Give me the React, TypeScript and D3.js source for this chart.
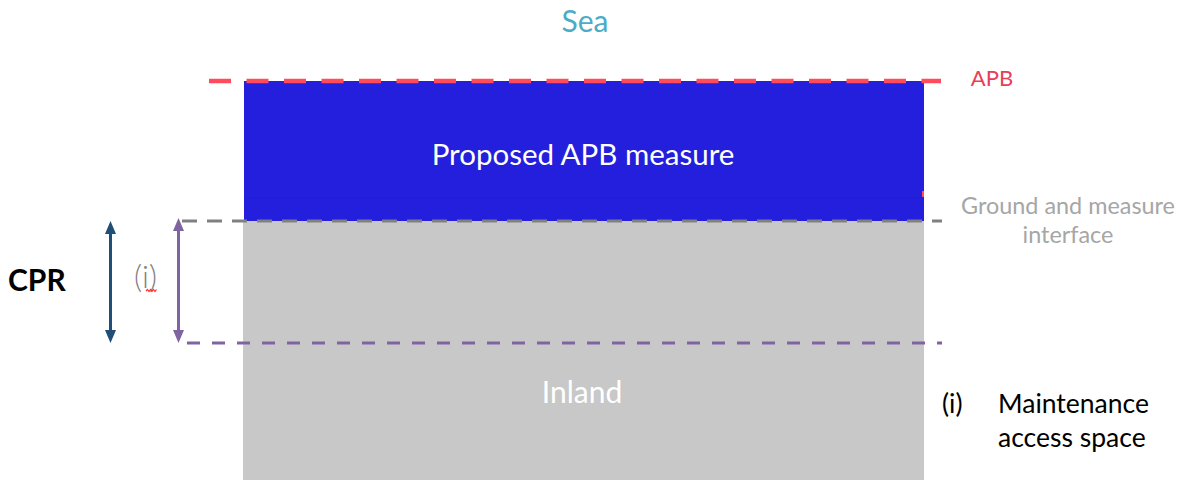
import React from "react";
import * as d3 from "d3";

// Conceptual vertical "depth" of the levels (arbitrary units, 0 = APB line)
const levelNames = ["APB", "Ground and measure interface", "Maintenance access limit", "Inland base"];
const levelDepths = [0, 3.5, 6.55, 10];

// Zones between levels
const zoneNames = ["Proposed APB measure", "Inland"];
const zoneTop = [0, 3.5];
const zoneBottom = [3.5, 10];

// Horizontal extent of the measure (fraction of drawing width)
const measureExtent = [0, 1];

const labels = {
  sea: "Sea",
  apb: "APB",
  interface1: "Ground and measure",
  interface2: "interface",
  cpr: "CPR",
  iMark: "(i)",
  legend1: "Maintenance",
  legend2: "access space",
};

const W = 1187;
const H = 480;
const FONT = "Lato, 'Open Sans', sans-serif";

function arrowHeads(xc: number, yTop: number, yBot: number, w: number, h: number) {
  const up = d3.path();
  up.moveTo(xc, yTop);
  up.lineTo(xc + w / 2, yTop + h);
  up.lineTo(xc - w / 2, yTop + h);
  up.closePath();
  const down = d3.path();
  down.moveTo(xc, yBot);
  down.lineTo(xc + w / 2, yBot - h);
  down.lineTo(xc - w / 2, yBot - h);
  down.closePath();
  return up.toString() + down.toString();
}

export default function App() {
  const y = d3.scaleLinear().domain([0, 10]).range([81, 481]);
  const x = d3.scaleLinear().domain([0, 1]).range([243, 924]);

  const yAPB = y(levelDepths[0]);
  const yInt = y(levelDepths[1]);
  const yAcc = y(levelDepths[2]);

  const squiggle = d3.line()([
    [146, 291], [147.5, 289.5], [149, 291.5], [150.5, 289.5], [152, 291.5], [153.5, 289.5], [155, 291.5], [156.5, 289.5],
  ]);

  return (
    <svg width={W} height={H} style={{ position: "absolute", left: 0, top: 0, background: "#fff" }} fontFamily={FONT}>
      {/* Zones */}
      <rect x={x(measureExtent[0]) + 1} y={y(zoneTop[0])} width={x(measureExtent[1]) - x(measureExtent[0]) - 1} height={y(zoneBottom[0]) - y(zoneTop[0])} fill="#231FDC" />
      <line x1={x(0) + 1} x2={x(1)} y1={y(2.92)} y2={y(2.92)} stroke="#1A20E6" strokeWidth={1} />
      <rect x={x(measureExtent[0])} y={y(zoneTop[1])} width={x(measureExtent[1]) - x(measureExtent[0])} height={y(zoneBottom[1]) - y(zoneTop[1])} fill="#C8C8C8" />
      <line x1={x(1) - 1} x2={x(1) - 1} y1={191} y2={197} stroke="#FF4B5C" strokeWidth={2} />

      {/* Level lines */}
      <line x1={209} x2={941} y1={yAPB} y2={yAPB} stroke="#FF4B5C" strokeWidth={4.5} strokeDasharray="22 15.5" />
      <line x1={182} x2={942} y1={yInt} y2={yInt} stroke="#808080" strokeWidth={3} strokeDasharray="15 10" />
      <line x1={187} x2={942} y1={yAcc} y2={yAcc} stroke="#8064A2" strokeWidth={3} strokeDasharray="13 12" />

      {/* Arrows */}
      <line x1={110.5} x2={110.5} y1={yInt + 8} y2={yAcc - 8} stroke="#1F4E79" strokeWidth={3} />
      <path d={arrowHeads(110.5, yInt, yAcc, 11, 13)} fill="#1F4E79" />
      <line x1={178.5} x2={178.5} y1={yInt + 6} y2={yAcc - 8} stroke="#8064A2" strokeWidth={3} />
      <path d={arrowHeads(178.5, yInt - 3, yAcc, 11, 13)} fill="#8064A2" />

      {/* Texts */}
      <text x={585} y={32} textAnchor="middle" fontSize={30} fill="#4BACC6">{labels.sea}</text>
      <text x={992} y={86} textAnchor="middle" fontSize={22} fill="#E83E57">{labels.apb}</text>
      <text x={583} y={165} textAnchor="middle" fontSize={29.5} fill="#FFFFFF">{zoneNames[0]}</text>
      <text x={1068} y={214} textAnchor="middle" fontSize={23.4} fill="#A6A6A6">{labels.interface1}</text>
      <text x={1068} y={243} textAnchor="middle" fontSize={23.4} fill="#A6A6A6">{labels.interface2}</text>
      <text x={8} y={291} fontSize={30} fontWeight="bold" fill="#000">{labels.cpr}</text>
      <text x={134} y={288} fontSize={31} fontWeight={300} fill="#7F7F7F">{labels.iMark}</text>
      <path d={squiggle ?? ""} fill="none" stroke="#FF3030" strokeWidth={1.2} />
      <text x={582} y={403} textAnchor="middle" fontSize={30} fill="#FFFFFF">{zoneNames[1]}</text>
      <text x={942} y={413} fontSize={26.5} fill="#000">{labels.iMark}</text>
      <text x={998} y={413} fontSize={26.5} fill="#000">{labels.legend1}</text>
      <text x={998} y={447} fontSize={26.5} fill="#000">{labels.legend2}</text>
    </svg>
  );
}
